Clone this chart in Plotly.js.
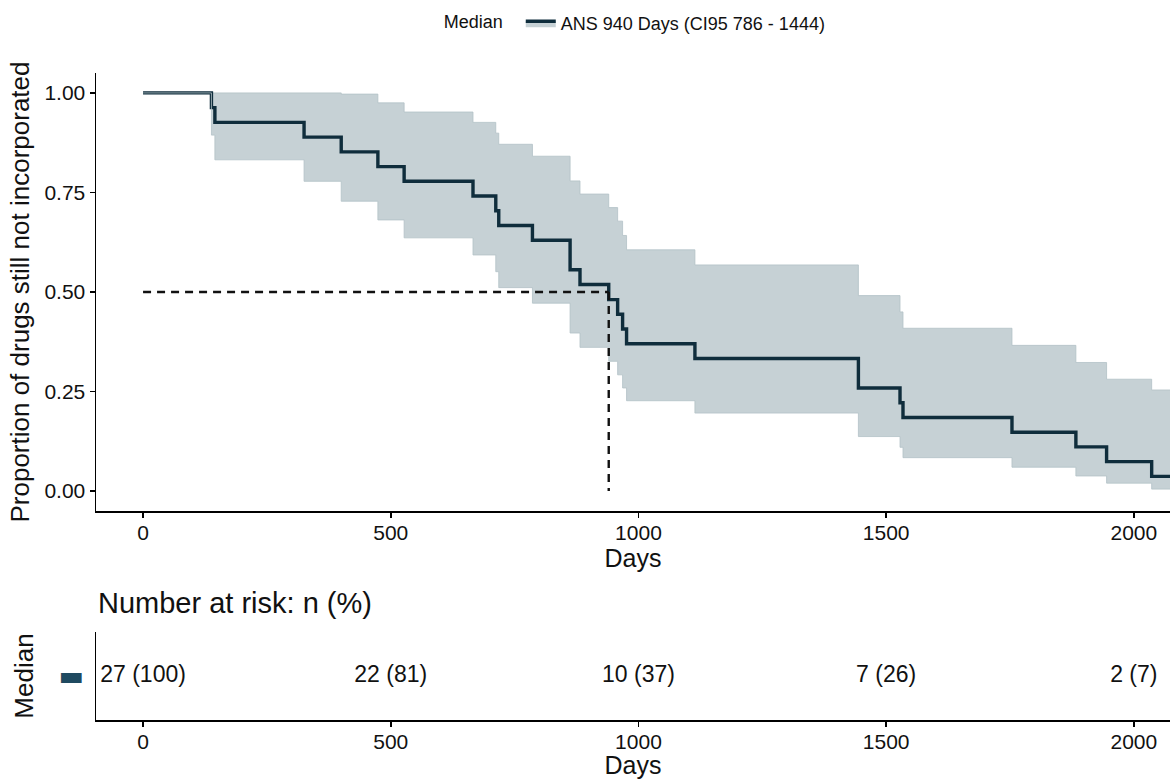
<!DOCTYPE html>
<html>
<head>
<meta charset="utf-8">
<script src="https://cdn.plot.ly/plotly-3.0.1.min.js"></script>
<style>html,body{margin:0;padding:0;background:#fff;}#chart{width:1170px;height:779px;}</style>
</head>
<body>
<div id="chart"></div>
<script>
// Kaplan-Meier step data (days, proportion after each step)
const days  = [0, 138, 145, 325, 400, 474, 527, 666, 712, 718, 786, 862, 882, 940, 958, 968, 976, 1114, 1444, 1528, 1534, 1754, 1883, 1945, 2036, 2080];
const surv  = [1, 0.963, 0.926, 0.889, 0.852, 0.815, 0.778, 0.741, 0.704, 0.667, 0.630, 0.556, 0.519, 0.481, 0.444, 0.407, 0.370, 0.333, 0.259, 0.222, 0.185, 0.148, 0.111, 0.074, 0.037, 0.037];
const upper = [1, 1, 1, 1, 0.997, 0.975, 0.952, 0.926, 0.899, 0.871, 0.841, 0.779, 0.746, 0.712, 0.678, 0.642, 0.606, 0.568, 0.491, 0.450, 0.409, 0.366, 0.323, 0.281, 0.254, 0.254];
const lower = [1, 0.894, 0.832, 0.778, 0.728, 0.681, 0.636, 0.593, 0.551, 0.511, 0.472, 0.397, 0.361, 0.326, 0.292, 0.259, 0.227, 0.196, 0.137, 0.110, 0.084, 0.060, 0.038, 0.020, 0.005, 0.005];

// median survival and its line
const medianDay = 940;
const medianLevel = 0.5;

// risk table
const riskDays = [0, 500, 1000, 1500, 2000];
const riskLabels = ["27 (100)", "22 (81)", "10 (37)", "7 (26)", "2 (7)"];
const strataName = "Median";
const legendLabel = "ANS 940 Days (CI95 786 - 1444)";

const xTicks = [0, 500, 1000, 1500, 2000];
const yTicks = [0, 0.25, 0.5, 0.75, 1];

const lineColor = "#0f2d3c";
const bandColor = "#c6d1d5";
const bandEdge = "#b3c1c7";
const font = "Liberation Sans, Arial, sans-serif";

const traces = [
  {x: days, y: upper, type: "scatter", mode: "lines", line: {shape: "hv", color: bandEdge, width: 0.8},
   showlegend: false, hoverinfo: "skip"},
  {x: days, y: surv, type: "scatter", mode: "lines", name: legendLabel,
   line: {shape: "hv", color: lineColor, width: 3.4}, fill: "tonexty", fillcolor: bandColor, showlegend: true},
  {x: days, y: lower, type: "scatter", mode: "lines", line: {shape: "hv", color: bandEdge, width: 0.8},
   fill: "tonexty", fillcolor: bandColor, showlegend: false, hoverinfo: "skip"},
  {x: [0, medianDay], y: [medianLevel, medianLevel], type: "scatter", mode: "lines",
   line: {color: "#111", width: 2.4, dash: "8px,6px"}, showlegend: false},
  {x: [medianDay, medianDay], y: [medianLevel, 0], type: "scatter", mode: "lines",
   line: {color: "#111", width: 2.4, dash: "8px,6px"}, showlegend: false},
  {x: riskDays, y: riskDays.map(() => strataName), type: "scatter", mode: "text", text: riskLabels,
   textposition: "middle center", textfont: {family: font, size: 23, color: "#111"},
   xaxis: "x2", yaxis: "y2", showlegend: false, cliponaxis: false}
];

const axisCommon = {
  showgrid: false, zeroline: false, showline: true, linecolor: "#000", linewidth: 1.5,
  ticks: "outside", ticklen: 5, tickwidth: 1.5, tickcolor: "#000",
  tickfont: {family: font, size: 21, color: "#111"}, automargin: false
};

const layout = {
  width: 1170, height: 779,
  margin: {l: 96, r: 0, t: 73, b: 59},
  paper_bgcolor: "#fff", plot_bgcolor: "#fff",
  font: {family: font, color: "#111"},
  showlegend: true,
  legend: {orientation: "h", x: 0.503, xanchor: "center", y: 1.105, yanchor: "top",
           title: {text: strataName + "  ", font: {family: font, size: 18, color: "#111"}, side: "left"},
           font: {family: font, size: 18, color: "#111"}, itemwidth: 30, bgcolor: "rgba(0,0,0,0)"},
  xaxis: Object.assign({}, axisCommon, {domain: [0, 1], anchor: "y", range: [-95, 2073],
           tickvals: xTicks, ticktext: xTicks.map(String), ticklabelstandoff: -3,
           title: {text: "Days", font: {family: font, size: 25, color: "#111"}, standoff: 4}}),
  yaxis: Object.assign({}, axisCommon, {domain: [0.323, 1], anchor: "x", range: [-0.05, 1.05],
           tickvals: yTicks, ticktext: yTicks.map(v => v.toFixed(2)),
           title: {text: "Proportion of drugs still not incorporated", font: {family: font, size: 26, color: "#111"}, standoff: 7}}),
  xaxis2: Object.assign({}, axisCommon, {domain: [0, 1], anchor: "y2", range: [-95, 2073],
           tickvals: xTicks, ticktext: xTicks.map(String), ticklabelstandoff: -3,
           title: {text: "Days", font: {family: font, size: 25, color: "#111"}, standoff: 2}}),
  yaxis2: Object.assign({}, axisCommon, {domain: [0, 0.136], anchor: "x2", type: "category",
           ticks: "", tickvals: [strataName], ticktext: ["▬"],
           tickfont: {family: "DejaVu Sans", size: 27, color: "#1f4a60"}, ticklabelstandoff: 5,
           title: {text: strataName, font: {family: font, size: 26, color: "#111"}, standoff: 17}}),
  annotations: [
    {text: "Number at risk: n (%)", xref: "paper", yref: "paper", x: 0, y: 0.181, xanchor: "left", yanchor: "middle",
     showarrow: false, font: {family: font, size: 29, color: "#111"}}
  ]
};

Plotly.newPlot("chart", traces, layout, {staticPlot: true, displayModeBar: false});
</script>
</body>
</html>
